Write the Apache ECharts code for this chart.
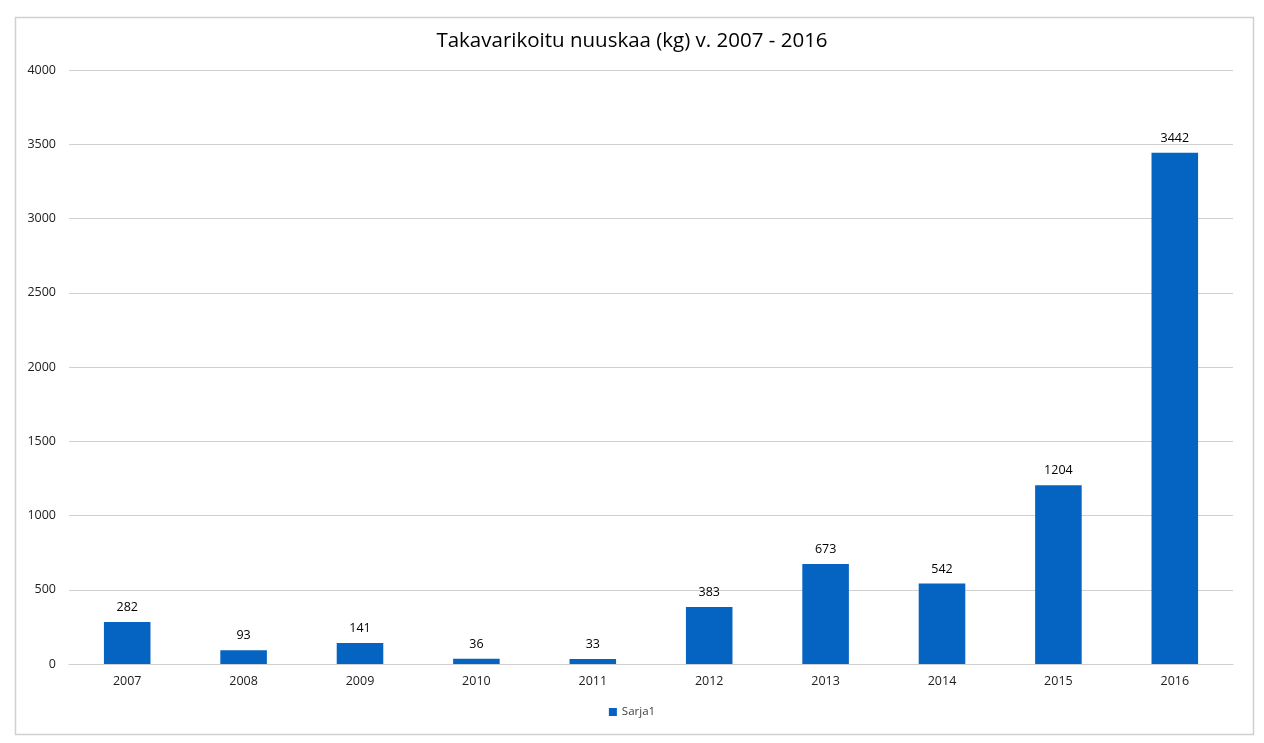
<!DOCTYPE html>
<html>
<head>
<meta charset="utf-8">
<script src="https://cdn.jsdelivr.net/npm/echarts@6/dist/echarts.min.js"></script>
<style>
html,body{margin:0;padding:0;background:#fff;}
#c{width:1264px;height:743px;}
</style>
</head>
<body>
<div id="c"></div>
<script>
var categories = ['2007','2008','2009','2010','2011','2012','2013','2014','2015','2016'];
var values = [282, 93, 141, 36, 33, 383, 673, 542, 1204, 3442];
var seriesName = 'Sarja1';
var titleText = 'Takavarikoitu nuuskaa (kg) v. 2007 - 2016';

var chart = echarts.init(document.getElementById('c'));
chart.setOption({
  animation: false,
  textStyle: {fontFamily: 'Open Sans'},
  graphic: [{
    type: 'rect', left: 13, top: 15,
    shape: {width: 1238, height: 717},
    style: {fill: 'none', stroke: '#d0d0d0', lineWidth: 1.5},
    silent: true
  }],
  title: {
    text: titleText, left: 'center', top: 26,
    textStyle: {fontFamily: 'Open Sans', fontSize: 20.5, fontWeight: 'normal', color: '#000'}
  },
  legend: {
    bottom: 20, left: 'center', itemWidth: 8, itemHeight: 8, icon: 'rect',
    textStyle: {fontSize: 11.5, color: '#404040'},
    data: [seriesName]
  },
  grid: {left: 69, right: 31, top: 70, bottom: 79, containLabel: false},
  xAxis: {
    type: 'category', data: categories,
    axisLine: {lineStyle: {color: '#d0d0d0'}},
    axisTick: {show: false},
    axisLabel: {color: '#202020', fontSize: 12.5, margin: 11}
  },
  yAxis: {
    type: 'value', min: 0, max: 4000, interval: 500,
    axisLine: {show: false},
    axisTick: {show: false},
    axisLabel: {color: '#202020', fontSize: 12.5, margin: 13, formatter: function (v) { return String(v); }},
    splitLine: {lineStyle: {color: '#d0d0d0', width: 1}}
  },
  series: [{
    name: seriesName, type: 'bar', data: values,
    barWidth: '40%',
    itemStyle: {color: '#0563C1'},
    label: {show: true, position: 'top', distance: 8, color: '#000', fontSize: 12.5}
  }]
});
</script>
</body>
</html>
